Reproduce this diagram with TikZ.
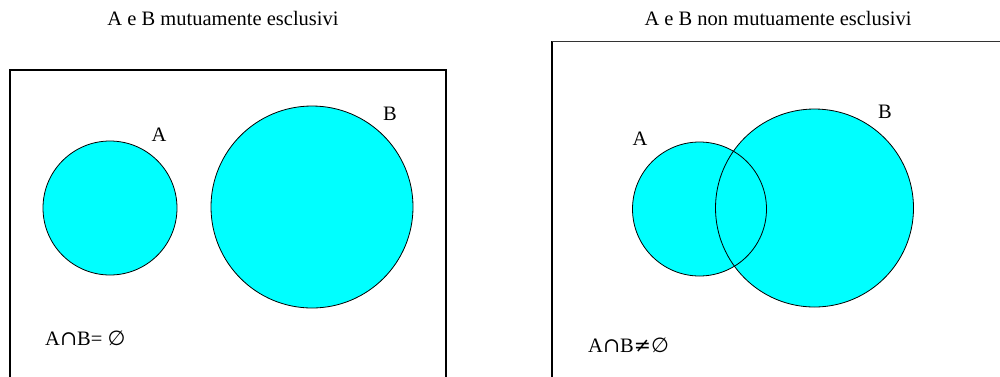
\documentclass[tikz,border=0pt]{standalone}
\usepackage{fontspec}
\setmainfont{Liberation Serif}
\newfontfamily\symfont{DejaVu Serif}
\newfontfamily\symsans{DejaVu Sans}
\usetikzlibrary{backgrounds}
\definecolor{aqua}{RGB}{0,255,255}
\tikzset{
  lbl/.style={inner sep=0pt, font=\fontsize{20.5}{24}\selectfont},
  setc/.style={circle, draw=black, line width=0.8pt, inner sep=0pt},
  frame/.style={draw=black, line width=1.6pt},
  setfill/.style={fill=aqua}
}
\begin{document}
\begin{tikzpicture}[x=1pt,y=-1pt]
\useasboundingbox (0,0) rectangle (1000,376);
% frames
\coordinate (L1) at (10,390);
\coordinate (L2) at (10,70);
\coordinate (L3) at (446,70);
\coordinate (L4) at (446,390);
\draw[frame] (L1) -- (L2) -- (L3) -- (L4);
\coordinate (R1) at (552,390);
\coordinate (R2) at (552,41);
\coordinate (R3) at (1010,41);
\draw[frame] (R1) -- (R2);
\draw[draw=black!80, line width=1pt] (R2) -- (R3);
% titles
\node[lbl] (t1) at (223,18) {A e B mutuamente esclusivi};
\node[lbl] (t2) at (778,18) {A e B non mutuamente esclusivi};
% left: disjoint sets
\node[setc, setfill, minimum size=134pt] (A1) at (110,208) {};
\node[setc, setfill, minimum size=202pt] (B1) at (312,207) {};
\node[lbl] (la1) at (159,135) {A};
\node[lbl] (lb1) at (390,114) {B};
\node[lbl, anchor=base west] (e1) at (45,345) {A{\symfont ∩}B= {\symsans ∅}};
% right: overlapping sets
\node[setc, minimum size=134pt] (A2) at (699.5,209) {};
\node[setc, minimum size=198pt] (B2) at (814.5,208) {};
\begin{scope}[on background layer]
  \fill[aqua] (A2.center) circle (67pt);
  \fill[aqua] (B2.center) circle (99pt);
\end{scope}
\node[lbl] (la2) at (640,139) {A};
\node[lbl] (lb2) at (885,112) {B};
\node[lbl, anchor=base west] (e2) at (588,352) {A{\symfont ∩}B{\symfont ≠}{\symsans ∅}};
\end{tikzpicture}
\end{document}
